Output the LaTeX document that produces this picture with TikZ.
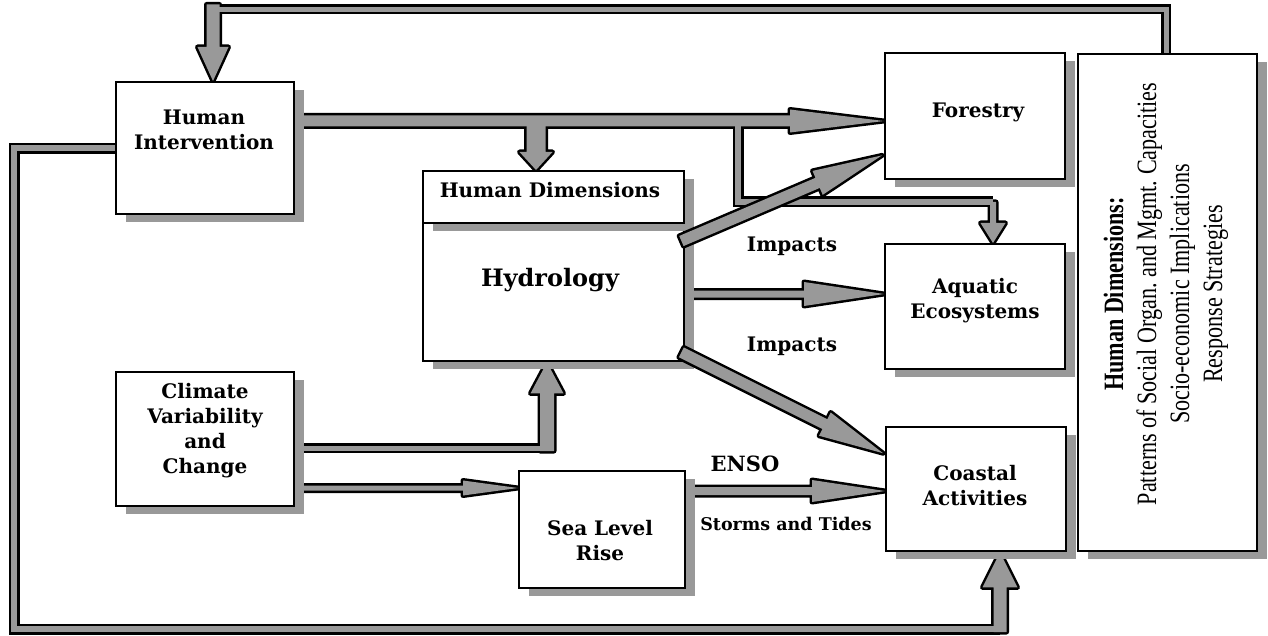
\documentclass[tikz,border=0pt]{standalone}
\usepackage{fontspec}
\setmainfont{DejaVu Serif}
\newfontfamily\narrowfont[FakeStretch=0.79]{Liberation Serif}
\usetikzlibrary{calc,shadows}
\pgfdeclarelayer{bg}
\pgfsetlayers{bg,main}
\frenchspacing
\definecolor{shade}{gray}{0.6}
\newcommand\boxfont{\fontsize{20}{25}\selectfont\bfseries}
% fat arrow geometry: name, from, to, half shaft, half head, head length
\newcommand\fatdef[6]{%
 \coordinate (#1H) at ($(#3)!#6!(#2)$);
 \coordinate (#1a) at ($(#2)!#4!90:(#3)$);
 \coordinate (#1b) at ($(#1H)!#4!90:(#3)$);
 \coordinate (#1c) at ($(#1H)!#5!90:(#3)$);
 \coordinate (#1t) at (#3);
 \coordinate (#1d) at ($(#1H)!#5!-90:(#3)$);
 \coordinate (#1e) at ($(#1H)!#4!-90:(#3)$);
 \coordinate (#1f) at ($(#2)!#4!-90:(#3)$);
}
\newcommand\fat[1]{\path[arr] (#1a) -- (#1b) -- (#1c) -- (#1t) -- (#1d) -- (#1e) -- (#1f) -- cycle;}
\tikzset{
 box/.style={draw, line width=2.4pt, fill=white, inner sep=0pt, anchor=north west,
   drop shadow={shadow xshift=10pt, shadow yshift=-8pt, fill=shade, opacity=1}},
 txt/.style={font=\boxfont, align=center, inner sep=0pt},
 pass1/.style={rail/.style={draw=black, line width=##1}, arr/.style={fill=black, draw=black, line width=5pt, line join=round}},
 pass2/.style={rail/.style={draw=shade, line width=##1-5pt}, arr/.style={fill=shade, draw=none}},
}
\newcommand\groupA{%
 \draw[rail=10pt] (hdim.north -| fbR) -- (fbR) -- (fbL);
 \fat{ta}
 \draw[rail=11pt] (hi.west) -| (lb1) -- (lb2);
 \fat{ca}
 \fat{hf}
 \fat{dn}
 \draw[rail=11pt] (bA) -- (bB) -- (bC);
 \fat{ad}
 \fat{ha}
 \fat{en}
 \draw[rail=10pt] (cl.east |- r4) -- (uA);
 \fat{up}
 \fat{cs}
}
\begin{document}
\begin{tikzpicture}[x=1pt,y=-1pt]
\useasboundingbox (0,0) rectangle (1268,636);

% boxes
\node[box, minimum width=178pt, minimum height=132pt] (hi) at (115,81) {};
\node[box, minimum width=178pt, minimum height=134pt] (cl) at (115,371) {};
\node[box, minimum width=261pt, minimum height=138pt] (hy) at (422,222) {};
\node[box, minimum width=261pt, minimum height=52pt] (hd) at (422,170) {};
\node[box, minimum width=180pt, minimum height=126pt] (fo) at (884,52) {};
\node[box, minimum width=180pt, minimum height=125pt] (aq) at (884,243) {};
\node[box, minimum width=180pt, minimum height=124pt] (co) at (885,426) {};
\node[box, minimum width=166pt, minimum height=117pt] (sl) at (518,470) {};
\node[box, minimum width=179pt, minimum height=497pt] (hdim) at (1077,53) {};

% texts
\node[txt] (hi-t) at (204,130) {Human\\Intervention};
\node[txt] (cl-t) at (205,431) {Climate\\Variability\\and\\Change};
\node[txt, font=\fontsize{24}{28}\selectfont\bfseries] (hy-t) at (550,280) {Hydrology};
\node[txt] (hd-t) at (550,190) {Human Dimensions};
\node[txt] (fo-t) at (978,112) {Forestry};
\node[txt] (aq-t) at (975,301) {Aquatic\\Ecosystems};
\node[txt] (co-t) at (975,486) {Coastal\\Activities};
\node[txt] (sl-t) at (600,541) {Sea Level\\Rise};
\node[txt] (im1) at (792,246) {Impacts};
\node[txt] (im2) at (792,346) {Impacts};
\node[txt, font=\fontsize{21}{25}\selectfont\bfseries] (enso) at (745,464) {ENSO};
\node[txt, font=\fontsize{17.5}{20}\selectfont\bfseries] (st) at (786,524) {Storms and Tides};
\node[rotate=90, align=center, inner sep=0pt, font=\narrowfont\fontsize{28}{33}\selectfont] (hdim-t) at (1166,294)
  {\textbf{Human Dimensions:}\\Patterns of Social Organ. and Mgmt. Capacities\\Socio-economic Implications\\Response Strategies};

% helper coordinates
\coordinate (fbR) at (1166,9.5);
\coordinate (fbL) at (213,9.5);
\coordinate (fbLa) at (213,4.5);
\coordinate (lb1) at (14,629);
\coordinate (lb2) at (1000,629);
\coordinate (lb2s) at (1000,632);
\coordinate (r1) at (0,121);
\coordinate (dA) at (536,121);
\coordinate (bA) at (738,121);
\coordinate (bB) at (738,202);
\coordinate (bC) at (993,202);
\coordinate (r2) at (0,294);
\coordinate (r3) at (0,491);
\coordinate (r4) at (0,448);
\coordinate (uA) at (547,448);
\coordinate (uAs) at (547,451);
\coordinate (r5) at (0,488);

\fatdef{ta}{fbLa}{hi.north -| fbL}{6.5pt}{15.5pt}{34pt}
\fatdef{ca}{lb2s}{co.south -| lb2}{6.5pt}{17.5pt}{35pt}
\fatdef{hf}{hi.east |- r1}{fo.west |- r1}{5.5pt}{11.5pt}{94pt}
\fatdef{dn}{dA}{hd.north -| dA}{9.5pt}{16.5pt}{18pt}
\fatdef{ad}{bC}{aq.north -| bC}{3pt}{12.5pt}{20pt}
\fatdef{ha}{hy.east |- r2}{aq.west |- r2}{3.5pt}{12pt}{80pt}
\fatdef{en}{sl.east |- r3}{co.west |- r3}{4pt}{11pt}{73pt}
\fatdef{up}{uAs}{hy.south -| uA}{7pt}{16.5pt}{31pt}
\fatdef{cs}{cl.east |- r5}{sl.west |- r5}{2.5pt}{7.5pt}{55pt}

\begin{pgfonlayer}{bg}
\begin{scope}[pass1] \groupA \end{scope}
\begin{scope}[pass2] \groupA \end{scope}
\end{pgfonlayer}

% diagonal arrows drawn over everything
\coordinate (d1s) at ($(hy.north east)+(-4,19)$);
\coordinate (d1t) at ($(fo.south west)+(-2,-25)$);
\coordinate (d2s) at ($(hy.south east)+(-4,-10)$);
\coordinate (d2t) at ($(co.west)+(-2,-36)$);
\fatdef{dg}{d1s}{d1t}{5.5pt}{13pt}{70pt}
\fatdef{dh}{d2s}{d2t}{5.5pt}{13pt}{65pt}
\begin{scope}[pass1] \fat{dg} \end{scope}
\begin{scope}[pass2] \fat{dg} \end{scope}
\begin{scope}[pass1] \fat{dh} \end{scope}
\begin{scope}[pass2] \fat{dh} \end{scope}
\end{tikzpicture}
\end{document}
